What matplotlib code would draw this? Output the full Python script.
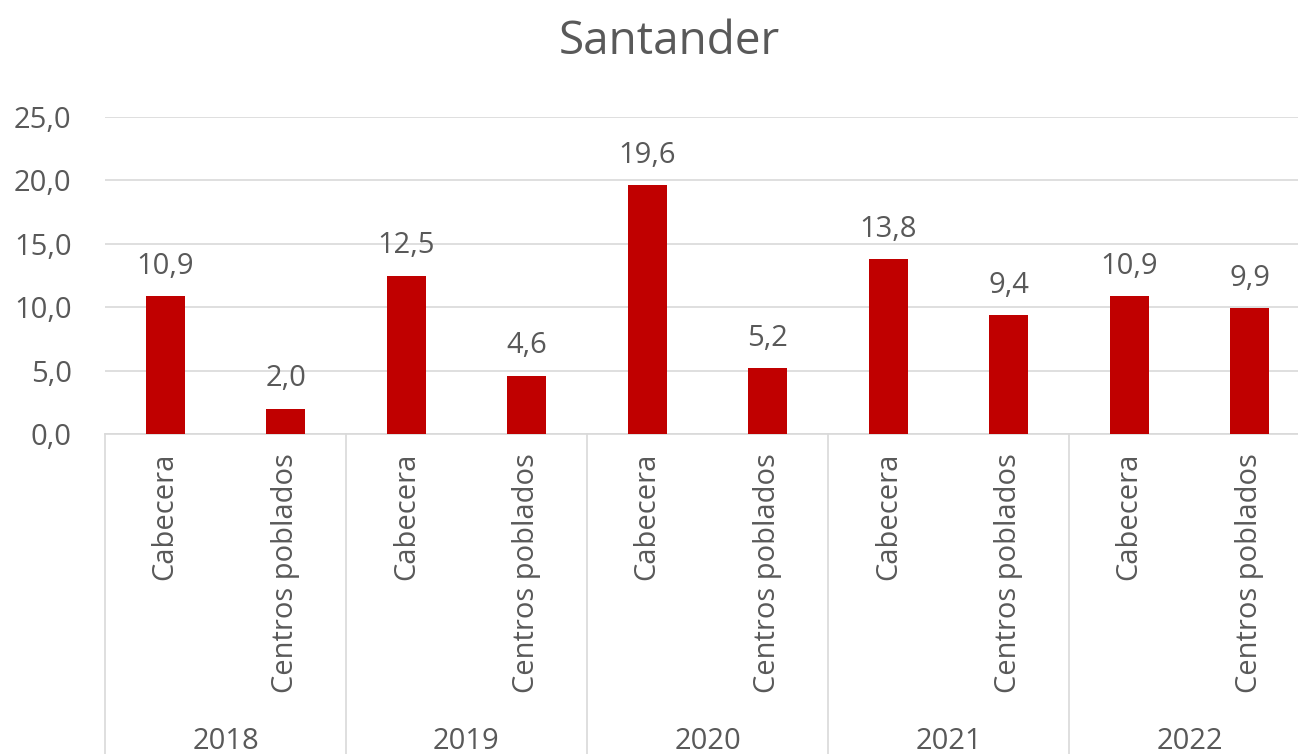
import numpy as np
import matplotlib.pyplot as plt
import matplotlib.transforms as mtransforms

plt.rcParams['font.family'] = ['Open Sans', 'DejaVu Sans']

years = ['2018', '2019', '2020', '2021', '2022']
areas = ['Cabecera', 'Centros poblados']
cabecera = [10.9, 12.5, 19.6, 13.8, 10.9]
centros = [2.0, 4.6, 5.2, 9.4, 9.9]

values = []
labels = []
for c, p in zip(cabecera, centros):
    values += [c, p]
    labels += areas

grey = '#595959'
red = '#c00000'
line = '#d9d9d9'
fs = 21

fig = plt.figure(figsize=(12.98, 7.54), dpi=100)
ax = fig.add_axes([105 / 1298, (754 - 434) / 754, 1205 / 1298, 317 / 754])

x = np.arange(len(values))
ax.bar(x, values, width=0.32, color=red, zorder=3)
ax.set_xlim(-0.5, len(values) - 0.5)
ax.set_ylim(0, 25)
ax.set_yticks(np.arange(0, 25.1, 5))
ax.set_yticklabels([('%.1f' % v).replace('.', ',') for v in np.arange(0, 25.1, 5)],
                   fontsize=fs, color=grey)
ax.tick_params(axis='y', length=0, pad=24)
ax.tick_params(axis='x', length=0, labelbottom=False)
ax.grid(axis='y', color=line, linewidth=1.2, zorder=0)
for s in ['top', 'right', 'left']:
    ax.spines[s].set_visible(False)
ax.spines['bottom'].set_color(line)
ax.spines['bottom'].set_linewidth(1.2)

for xi, v in zip(x, values):
    ax.annotate(('%.1f' % v).replace('.', ','), (xi, v), xytext=(0, 11),
                textcoords='offset points', ha='center', va='bottom',
                fontsize=fs, color=grey)

trans = mtransforms.blended_transform_factory(ax.transData, ax.transAxes)
for xi, lab in zip(x, labels):
    ax.text(xi, -0.06, lab, rotation=90, ha='center', va='top',
            fontsize=fs, color=grey, transform=trans)

for i, yr in enumerate(years):
    ax.text(2 * i + 0.5, -0.97, yr, ha='center', va='center',
            fontsize=fs, color=grey, transform=trans)

for b in np.arange(-0.5, len(values), 2):
    ax.plot([b, b], [0, -1.2], color=line, linewidth=1.2,
            transform=trans, clip_on=False)

fig.text(669 / 1298, 1 - 42 / 754, 'Santander', ha='center', va='center',
         fontsize=33, color=grey)

fig.savefig('out.png', dpi=100)
